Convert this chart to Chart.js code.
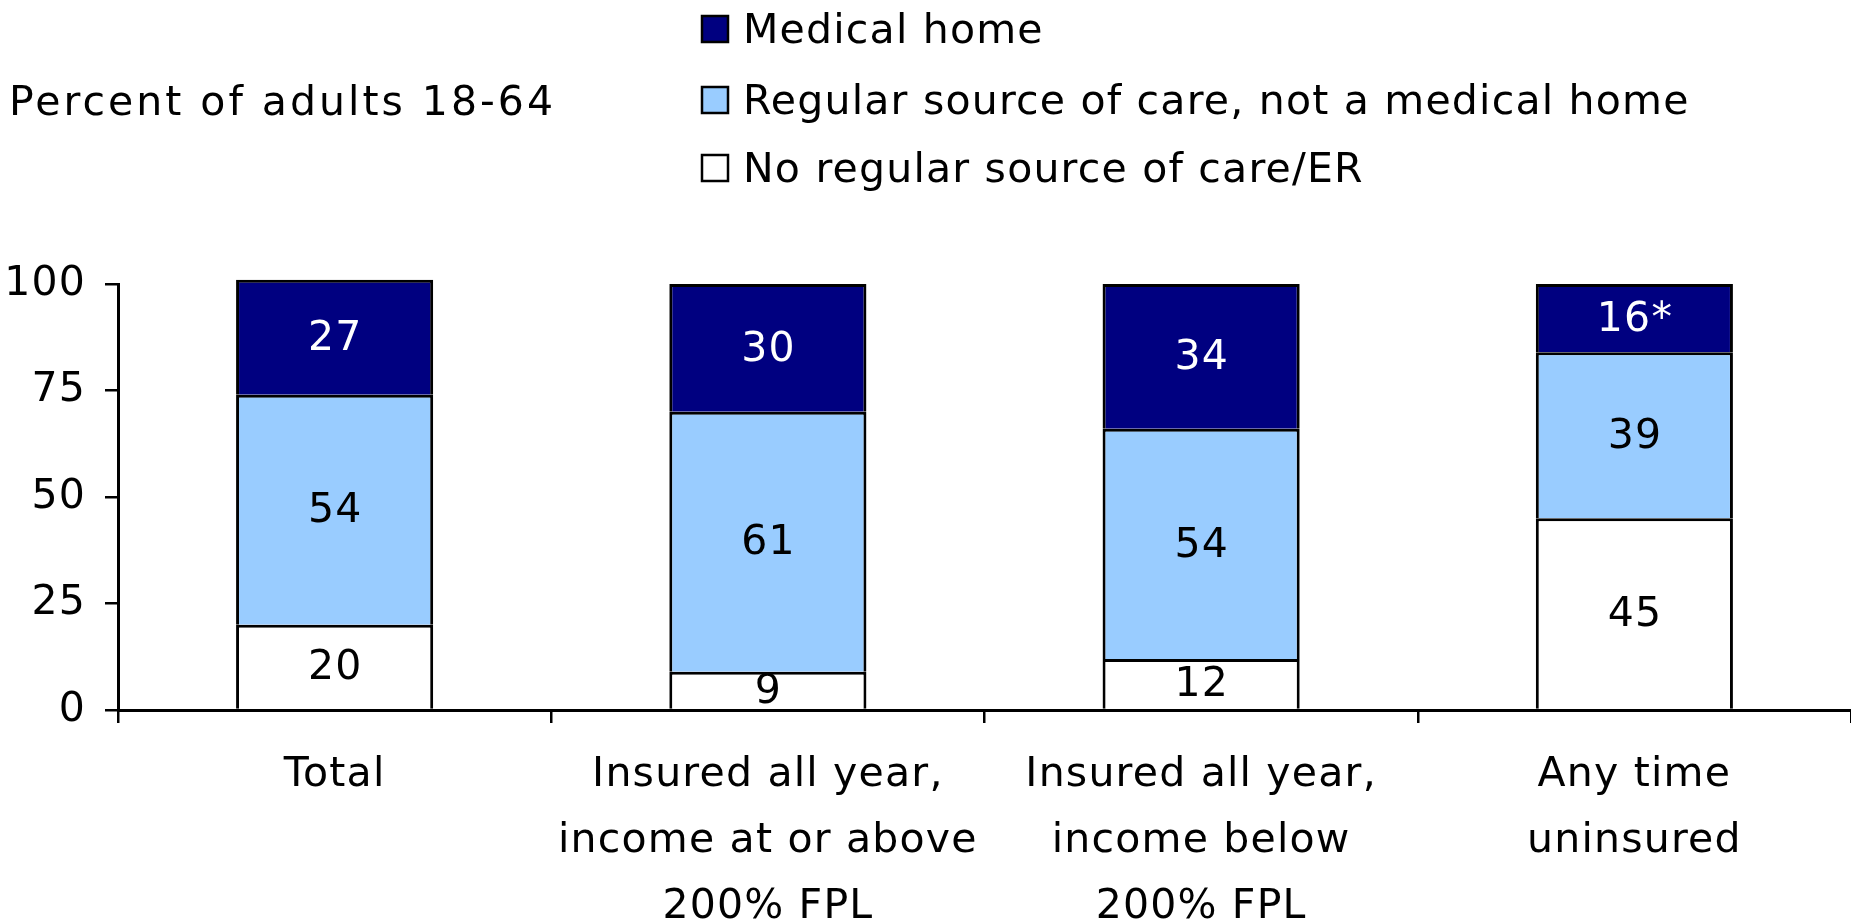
<!DOCTYPE html>
<html>
<head>
<meta charset="utf-8">
<script src="https://cdn.jsdelivr.net/npm/chart.js@4.4.0/dist/chart.umd.min.js"></script>
<style>
  html, body { margin: 0; padding: 0; background: #fff; }
  #wrap { position: relative; width: 1851px; height: 919px; }
</style>
</head>
<body>
<div id="wrap"><canvas id="chart"></canvas></div>
<script>
// --- data ---
const categories = [
  ['Total'],
  ['Insured all year,', 'income at or above', '200% FPL'],
  ['Insured all year,', 'income below', '200% FPL'],
  ['Any time', 'uninsured']
];
const noRegularSource = [20, 9, 12, 45];
const regularNotHome = [54, 61, 54, 39];
const medicalHome = [27, 30, 34, 16];
const medicalHomeMarks = ['', '', '', '*'];
const seriesNames = [
  'Medical home',
  'Regular source of care, not a medical home',
  'No regular source of care/ER'
];
const yTitle = 'Percent of adults 18-64';

const FONT = '"DejaVu Sans", Verdana, sans-serif';
const SIZE = 41;
const SPACING = 1.2;
const NAVY = '#000080';
const LIGHT = '#99CCFF';

// slight tracking like the original slide text
const tracking = {
  id: 'tracking',
  beforeDraw(chart) { chart.ctx.letterSpacing = SPACING + 'px'; }
};

const segmentLabels = {
  id: 'segmentLabels',
  afterDatasetsDraw(chart) {
    const ctx = chart.ctx;
    ctx.save();
    ctx.font = SIZE + 'px ' + FONT;
    ctx.textAlign = 'center';
    ctx.textBaseline = 'middle';
    chart.data.datasets.forEach((ds, i) => {
      chart.getDatasetMeta(i).data.forEach((bar, j) => {
        const text = ds.data[j] + (ds.marks ? ds.marks[j] : '');
        ctx.fillStyle = ds.labelColor;
        ctx.fillText(text, bar.x + SPACING / 2, (bar.y + bar.base) / 2 + 2);
      });
    });
    ctx.restore();
  }
};

const titleAndLegend = {
  id: 'titleAndLegend',
  afterDraw(chart) {
    const ctx = chart.ctx;
    ctx.save();
    ctx.font = SIZE + 'px ' + FONT;
    ctx.fillStyle = '#000';
    ctx.textAlign = 'left';
    ctx.textBaseline = 'middle';
    ctx.letterSpacing = '3px';
    ctx.fillText(yTitle, 9, 104);
    ctx.letterSpacing = SPACING + 'px';

    const fills = [NAVY, LIGHT, '#FFFFFF'];
    const rows = [31, 102, 170];
    seriesNames.forEach((name, i) => {
      ctx.fillStyle = fills[i];
      ctx.fillRect(702, rows[i] - 15, 26, 26);
      ctx.lineWidth = 2.5;
      ctx.strokeStyle = '#000';
      ctx.strokeRect(702, rows[i] - 15, 26, 26);
      ctx.fillStyle = '#000';
      ctx.fillText(name, 743, rows[i] + 1);
    });
    ctx.restore();
  }
};

const barStyle = {
  borderColor: '#000', borderWidth: 3, borderSkipped: 'start',
  barPercentage: 0.455, categoryPercentage: 1, clip: false
};

new Chart(document.getElementById('chart'), {
  type: 'bar',
  data: {
    labels: categories,
    datasets: [
      { label: seriesNames[2], data: noRegularSource, backgroundColor: '#FFFFFF', labelColor: '#000', ...barStyle },
      { label: seriesNames[1], data: regularNotHome, backgroundColor: LIGHT, labelColor: '#000', ...barStyle },
      { label: seriesNames[0], data: medicalHome, marks: medicalHomeMarks, backgroundColor: NAVY, labelColor: '#fff', ...barStyle }
    ]
  },
  options: {
    responsive: true, maintainAspectRatio: false, animation: false,
    layout: { padding: { top: 284, left: 0, right: 0, bottom: 0 } },
    plugins: { legend: { display: false }, tooltip: { enabled: false } },
    scales: {
      x: {
        stacked: true,
        afterFit: (s) => { s.height = 209; },
        border: { display: true, color: '#000', width: 3 },
        grid: { display: true, offset: true, drawOnChartArea: false, drawTicks: true, tickLength: 13, color: '#000', lineWidth: 2.5 },
        ticks: { color: '#000', font: { family: FONT, size: SIZE, lineHeight: 1.6 }, padding: 20, maxRotation: 0, autoSkip: false }
      },
      y: {
        stacked: true, min: 0, max: 100,
        afterFit: (s) => { s.width = 118; },
        border: { display: true, color: '#000', width: 3 },
        grid: { display: true, drawOnChartArea: false, drawTicks: true, tickLength: 13, color: '#000', lineWidth: 2.5 },
        ticks: { stepSize: 25, color: '#000', font: { family: FONT, size: SIZE }, padding: 19 }
      }
    }
  },
  plugins: [tracking, segmentLabels, titleAndLegend]
});
</script>
</body>
</html>
